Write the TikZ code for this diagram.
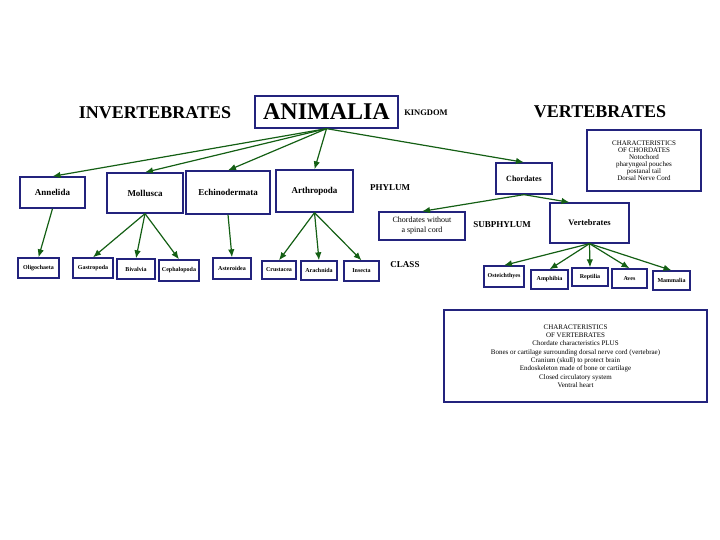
\documentclass[tikz,border=0pt]{standalone}
\usepackage{fontspec}
\setmainfont{Liberation Serif}
\usetikzlibrary{arrows.meta}

\definecolor{boxblue}{RGB}{35,35,125}
\definecolor{arrowgreen}{RGB}{20,95,20}

\begin{document}
\begin{tikzpicture}[x=1pt,y=-1pt]
% Diagram style
\tikzset{
    taxon/.style={draw=boxblue, line width=1.3pt, fill=white, inner sep=1pt, align=center,
        font=\bfseries\fontsize{6}{7}\selectfont},
    phylumbox/.style={taxon, font=\bfseries\fontsize{9}{10}\selectfont},
    charbox/.style={draw=boxblue, line width=1.3pt, fill=white, inner sep=1pt, align=center},
    rank/.style={font=\bfseries\fontsize{9}{10}\selectfont},
    heading/.style={font=\bfseries\fontsize{18}{20}\selectfont},
    link/.style={draw=arrowgreen, line width=1.2pt, -{Latex[length=8pt,width=6.5pt]}}
}
\useasboundingbox (0,0) rectangle (720,540);
% Headings and ranks
\node[heading] (invert) at (155,113) {INVERTEBRATES};
\node[heading] (vert) at (600,112) {VERTEBRATES};
\node[taxon, minimum width=143pt, minimum height=32pt, font=\bfseries\fontsize{24}{26}\selectfont] (animalia) at (326.5,112) {ANIMALIA};
\node[rank, font=\bfseries\fontsize{8.5}{10}\selectfont] (kingdom) at (426,113) {KINGDOM};
\node[rank] (phylum) at (390,188) {PHYLUM};
\node[rank] (subphylum) at (502,225) {SUBPHYLUM};
\node[rank] (class) at (405,265) {CLASS};
% Characteristics
\node[charbox, minimum width=114pt, minimum height=61pt, font=\fontsize{7}{6.9}\selectfont] (chordchar) at (644,160.5)
    {CHARACTERISTICS\\OF CHORDATES\\Notochord\\pharyngeal pouches\\postanal tail\\Dorsal Nerve Cord};
\node[charbox, minimum width=263pt, minimum height=92pt, font=\fontsize{7}{8.3}\selectfont] (vertchar) at (575.5,356)
    {CHARACTERISTICS\\OF VERTEBRATES\\Chordate characteristics PLUS\\Bones or cartilage surrounding dorsal nerve cord (vertebrae)\\
     Cranium (skull) to protect brain\\Endoskeleton made of bone or cartilage\\Closed circulatory system\\Ventral heart};
% Phyla
\node[phylumbox, minimum width=65pt, minimum height=31pt] (annelida) at (52.5,192.5) {Annelida};
\node[phylumbox, minimum width=76pt, minimum height=40pt] (mollusca) at (145,193) {Mollusca};
\node[phylumbox, minimum width=84pt, minimum height=43pt] (echino) at (228,192.5) {Echinodermata};
\node[phylumbox, minimum width=77pt, minimum height=42pt] (arthropoda) at (314.5,191) {Arthropoda};
\node[taxon, minimum width=56pt, minimum height=31pt, font=\bfseries\fontsize{8}{9}\selectfont] (chordates) at (524,178.5) {Chordates};
% Subphyla
\node[taxon, minimum width=86pt, minimum height=28pt, font=\fontsize{8}{10}\selectfont] (nospine) at (422,226) {Chordates without\\a spinal cord};
\node[taxon, minimum width=79pt, minimum height=40pt, font=\bfseries\fontsize{8.5}{10}\selectfont] (vertebrates) at (589.5,223) {Vertebrates};
% Classes
\node[taxon, minimum width=41pt, minimum height=20pt] (oligo) at (38.5,268) {Oligochaeta};
\node[taxon, minimum width=40pt, minimum height=20pt] (gastro) at (93,268) {Gastropoda};
\node[taxon, minimum width=38pt, minimum height=20pt] (bivalvia) at (136,269) {Bivalvia};
\node[taxon, minimum width=40pt, minimum height=21pt] (cephalo) at (179,270.5) {Cephalopoda};
\node[taxon, minimum width=38pt, minimum height=21pt] (astero) at (232,268.5) {Asteroidea};
\node[taxon, minimum width=34pt, minimum height=18pt] (crust) at (279,270) {Crustacea};
\node[taxon, minimum width=36pt, minimum height=19pt] (arach) at (319,270.5) {Arachnida};
\node[taxon, minimum width=35pt, minimum height=20pt] (insecta) at (361.5,271) {Insecta};
\node[taxon, minimum width=40pt, minimum height=21pt] (osteich) at (504,276.5) {Osteichthyes};
\node[taxon, minimum width=37pt, minimum height=19pt] (amphibia) at (549.5,279.5) {Amphibia};
\node[taxon, minimum width=36pt, minimum height=18pt] (reptilia) at (590,277) {Reptilia};
\node[taxon, minimum width=35pt, minimum height=19pt] (aves) at (629.5,278.5) {Aves};
\node[taxon, minimum width=37pt, minimum height=19pt] (mammalia) at (671.5,280.5) {Mammalia};
% Connections
\foreach \child in {annelida,mollusca,echino,arthropoda,chordates}
    \draw[link] (animalia.south) -- (\child.north);
\draw[link] (annelida.south) -- (oligo.north);
\foreach \child in {gastro,bivalvia,cephalo}
    \draw[link] (mollusca.south) -- (\child.north);
\draw[link] (echino.south) -- (astero.north);
\foreach \child in {crust,arach,insecta}
    \draw[link] (arthropoda.south) -- (\child.north);
\draw[link] (chordates.south) -- (nospine.north);
\draw[link] (chordates.south) -- ([xshift=-20pt]vertebrates.north);
\foreach \child in {osteich,amphibia,reptilia,aves,mammalia}
    \draw[link] (vertebrates.south) -- (\child.north);
\end{tikzpicture}
\end{document}
